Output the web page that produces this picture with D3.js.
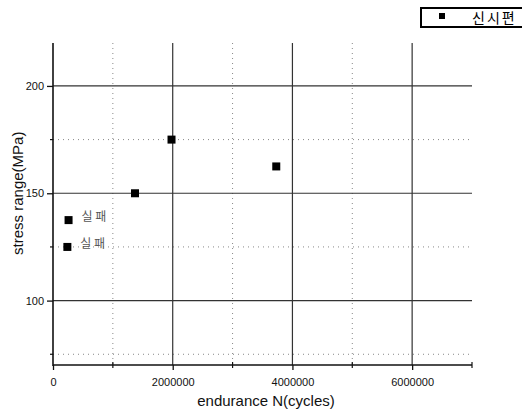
<!DOCTYPE html>
<html>
<head>
<meta charset="utf-8">
<script src="https://cdn.jsdelivr.net/npm/d3@7"></script>
<style>
  body { margin: 0; background: #fff; }
  svg { display: block; }
  text { font-family: Arial, "Liberation Sans", sans-serif; }
</style>
</head>
<body>
<svg id="chart" width="522" height="417"></svg>
<script>
// data
var cycles = [260000, 240000, 1370000, 1980000, 3730000];
var stress = [137.5, 125, 150, 175, 162.5];
var pointNotes = ["실 패", "실 패", "", "", ""];
var legendLabel = "신시편";

var majorXTicks = [0, 2000000, 4000000, 6000000];
var minorXTicks = [1000000, 3000000, 5000000, 7000000];
var majorYTicks = [100, 150, 200];
var minorYTicks = [75, 125, 175];

var svg = d3.select("#chart");
var plotLeft = 53, plotRight = 472, plotTop = 43, plotBottom = 365;

var x = d3.scaleLinear().domain([0, 7000000]).range([plotLeft, plotRight]);
var y = d3.scaleLinear().domain([70, 220]).range([plotBottom, plotTop]);

/** grid lines: dotted for minor, solid for major */
var grid = svg.append("g");
grid.selectAll("line.minx").data(minorXTicks.filter(function(d){return d < 7000000;}))
  .enter().append("line")
  .attr("x1", x).attr("x2", x).attr("y1", plotTop).attr("y2", plotBottom)
  .attr("stroke", "#888").attr("stroke-width", 1).attr("stroke-dasharray", "1,4");
grid.selectAll("line.miny").data(minorYTicks)
  .enter().append("line")
  .attr("x1", plotLeft).attr("x2", plotRight).attr("y1", y).attr("y2", y)
  .attr("stroke", "#888").attr("stroke-width", 1).attr("stroke-dasharray", "1,4");
grid.selectAll("line.majx").data(majorXTicks.filter(function(d){return d > 0;}))
  .enter().append("line")
  .attr("x1", x).attr("x2", x).attr("y1", plotTop).attr("y2", plotBottom)
  .attr("stroke", "#333").attr("stroke-width", 1.2);
grid.selectAll("line.majy").data(majorYTicks)
  .enter().append("line")
  .attr("x1", plotLeft).attr("x2", plotRight).attr("y1", y).attr("y2", y)
  .attr("stroke", "#333").attr("stroke-width", 1.2);

/** axes */
var xAxis = d3.axisBottom(x).tickValues(majorXTicks).tickSize(5).tickPadding(8)
  .tickFormat(d3.format("d"));
var yAxis = d3.axisLeft(y).tickValues(majorYTicks).tickSize(6).tickPadding(3)
  .tickFormat(d3.format("d"));

var gx = svg.append("g").attr("transform", "translate(0," + plotBottom + ")").call(xAxis);
var gy = svg.append("g").attr("transform", "translate(" + plotLeft + ",0)").call(yAxis);
[gx, gy].forEach(function(g){
  g.select(".domain").remove();
  g.selectAll("line").attr("stroke", "#111").attr("stroke-width", 1.3);
  g.selectAll("text").attr("fill", "#111").style("font-size", "11px")
    .style("font-family", "Arial, 'Liberation Sans', sans-serif");
});
// minor ticks
svg.append("g").selectAll("line").data(minorXTicks).enter().append("line")
  .attr("x1", x).attr("x2", x).attr("y1", plotBottom - 3).attr("y2", plotBottom + 3)
  .attr("stroke", "#111").attr("stroke-width", 1.2);
svg.append("g").selectAll("line").data(minorYTicks).enter().append("line")
  .attr("x1", plotLeft - 3).attr("x2", plotLeft).attr("y1", y).attr("y2", y)
  .attr("stroke", "#111").attr("stroke-width", 1.2);

// axis lines
svg.append("line").attr("x1", plotLeft).attr("x2", plotLeft).attr("y1", plotTop).attr("y2", plotBottom + 1)
  .attr("stroke", "#111").attr("stroke-width", 1.6);
svg.append("line").attr("x1", plotLeft).attr("x2", plotRight).attr("y1", plotBottom).attr("y2", plotBottom)
  .attr("stroke", "#111").attr("stroke-width", 1.6);

/** axis titles */
svg.append("text").attr("x", 266).attr("y", 406)
  .attr("text-anchor", "middle").style("font-size", "15px").attr("fill", "#111")
  .text("endurance N(cycles)");
svg.append("text").attr("transform", "translate(23," + y(150) + ") rotate(-90)")
  .attr("text-anchor", "middle").style("font-size", "15px").attr("fill", "#111")
  .text("stress range(MPa)");

/** points */
var pts = cycles.map(function(c, i){ return {c: c, s: stress[i], note: pointNotes[i]}; });
var ms = 8;
svg.append("g").selectAll("rect").data(pts).enter().append("rect")
  .attr("x", function(d){ return x(d.c) - ms / 2; })
  .attr("y", function(d){ return y(d.s) - ms / 2; })
  .attr("width", ms).attr("height", ms).attr("fill", "#000");
svg.append("g").selectAll("text").data(pts.filter(function(d){ return d.note; })).enter()
  .append("text")
  .attr("x", function(d){ return x(d.c) + 13; })
  .attr("y", function(d){ return y(d.s) + 1; })
  .style("font-family", "'Noto Sans CJK KR', sans-serif").style("font-size", "12px")
  .attr("fill", "#555")
  .text(function(d){ return d.note; });

/** legend box, cut by the right edge */
var lg = svg.append("g");
lg.append("rect").attr("x", 421).attr("y", 8).attr("width", 110).attr("height", 19)
  .attr("fill", "#fff").attr("stroke", "#000").attr("stroke-width", 2);
lg.append("rect").attr("x", 439).attr("y", 13).attr("width", 6).attr("height", 6).attr("fill", "#000");
lg.append("text").attr("x", 472).attr("y", 23)
  .style("font-family", "'Noto Sans CJK KR', sans-serif").style("font-size", "14px")
  .style("letter-spacing", "2px")
  .attr("fill", "#000").text(legendLabel);
</script>
</body>
</html>
